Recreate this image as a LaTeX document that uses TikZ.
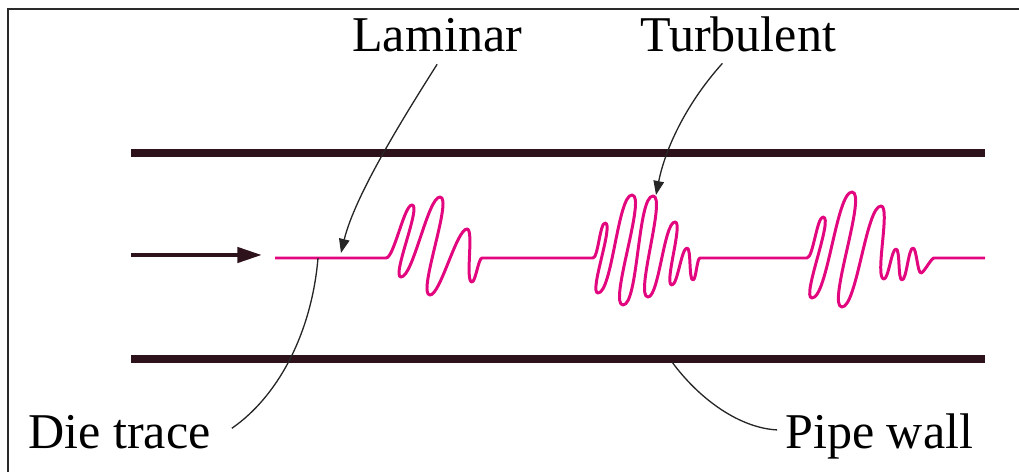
\documentclass[tikz,border=0pt]{standalone}
\usepackage{fontspec}
\setmainfont{Liberation Serif}
\usetikzlibrary{arrows.meta, calc}
\definecolor{tinta}{HTML}{E2067F}
\definecolor{granate}{HTML}{2E121B}
\definecolor{marco}{HTML}{2A2A2A}
\tikzset{
  paredtubo/.style={line width=4pt, color=granate},
  trazo/.style={line width=1.7pt, color=tinta, line join=round},
  onda/.style={out=0, in=180, looseness=0.35},
  etiqueta/.style={font=\fontsize{28.5pt}{33pt}\selectfont, inner sep=0pt, anchor=base west},
  guia/.style={line width=0.75pt, color=black!85},
  guiaflecha/.style={guia, -{Triangle[length=8pt, width=6pt]}},
  flujo/.style={line width=2.5pt, color=granate, -{Triangle[length=14pt, width=8.5pt]}}
}
\begin{document}
\begin{tikzpicture}[x=0.02cm, y=-0.02cm]
  \useasboundingbox (0,0) rectangle (1019,472);
  \draw [line width=1.2pt, color=marco] (8,472) -- (8,9) -- (1019,9);
  % paredes del tubo
  \draw [paredtubo] (131,153) -- (985,153);
  \draw [paredtubo] (131,359) -- (985,359);
  % flujo de entrada
  \coordinate (entrada) at (131,255);
  \coordinate (punta) at (262,255);
  \draw [flujo] (entrada) -- (punta);
  % trazo del tinte
  \draw [trazo] (275,258) -- (386,258)
    foreach \x/\y in {412/205,401/277,440/197,430/295,467/229,472/282,482/258} { to[onda] (\x,\y) }
    -- (593,258)
    foreach \x/\y in {605/223,598/293,632/195,623/305,653/196,648/297,675/222,672/285,687/248,693/280,700/258} { to[onda] (\x,\y) }
    -- (807,258)
    foreach \x/\y in {823/217,812/298,852/192,842/307,881/206,884/279,896/249,902/280,913/248,921/273,934/258} { to[onda] (\x,\y) }
    -- (985,258);
  \coordinate (pLaminar) at (341,253);
  \coordinate (pTurb) at (656,195);
  \coordinate (pTinte) at (318,258);
  \coordinate (pPared) at (672,362);
  \node (laminar) [etiqueta] at (352,52) {Laminar};
  \node (turbulento) [etiqueta] at (640,52) {Turbulent};
  \node (traza) [etiqueta] at (28,449) {Die trace};
  \node (muro) [etiqueta] at (785,449) {Pipe wall};
  \draw [guiaflecha] ([yshift=-6.5pt]laminar.south) .. controls (405,115) and (355,195) .. (pLaminar);
  \draw [guiaflecha] ([xshift=-9pt,yshift=-6pt]turbulento.south) .. controls (685,105) and (665,150) .. (pTurb);
  \draw [guia] (pTinte) .. controls (312,330) and (280,395) .. ([xshift=12pt,yshift=2.5pt]traza.east);
  \draw [guia] (pPared) .. controls (700,400) and (740,428) .. ([xshift=-4.5pt,yshift=4pt]muro.west);
\end{tikzpicture}
\end{document}
